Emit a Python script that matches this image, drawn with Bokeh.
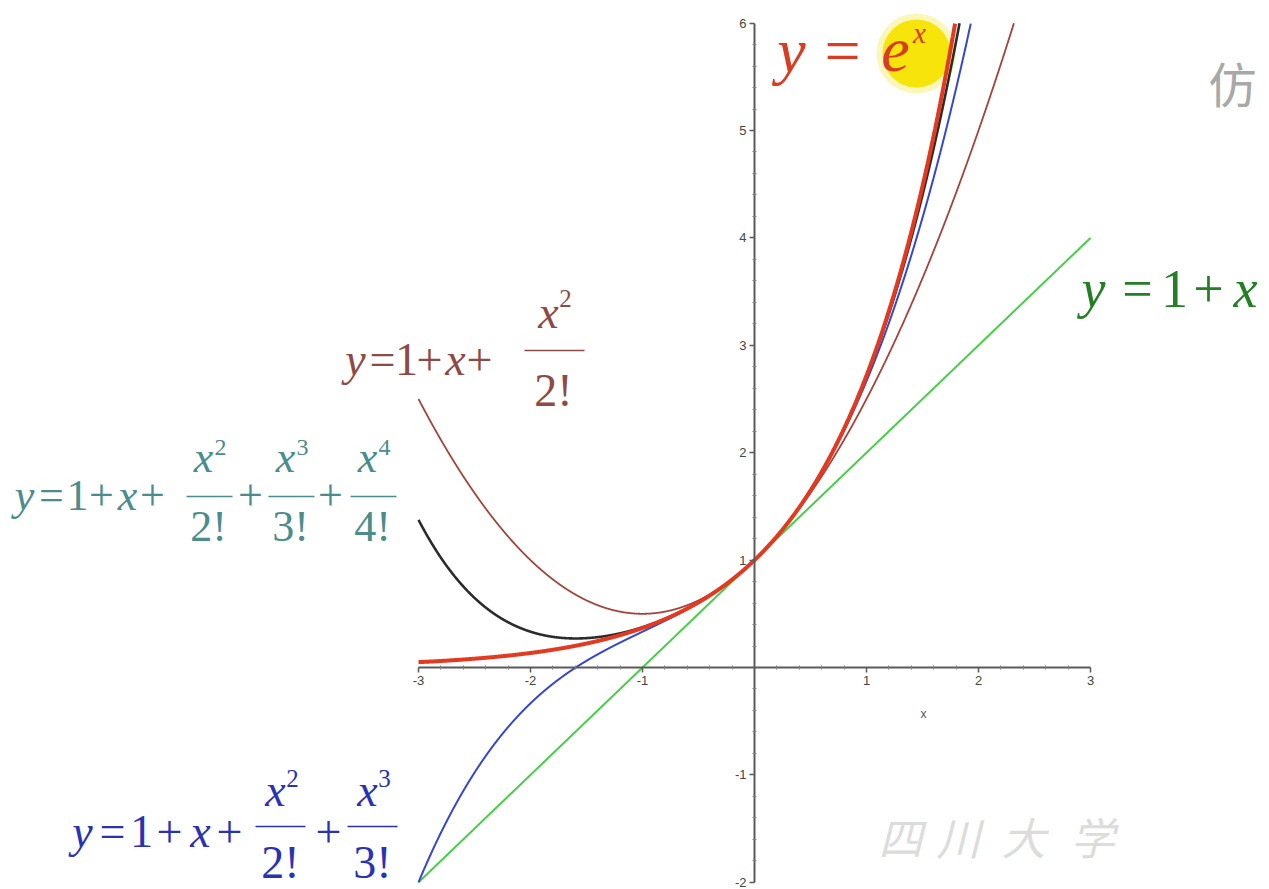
import numpy as np
from bokeh.plotting import figure
from bokeh.models import Range1d, LinearAxis, FixedTicker
from bokeh.core.properties import value
from bokeh.embed import file_html
from bokeh.resources import INLINE

# ---------------- data ----------------
x_domain = [-3.0, 3.0]
y_domain = [-2.0, 6.0]
x_major_ticks = [-3, -2, -1, 1, 2, 3]
y_major_ticks = [-2, -1, 1, 2, 3, 4, 5, 6]
minor_step = 0.2

# Maclaurin coefficients of e^x (1/k!) used by the partial sums
taylor_coeffs = [1.0, 1.0, 1.0 / 2, 1.0 / 6, 1.0 / 24]
series_orders = [1, 2, 3, 4]
series_colors = ["#46cf46", "#a3433c", "#3646cf", "#2b2b2b"]
series_widths = [2.0, 1.8, 2.0, 2.6]
exp_color = "#e2391f"
exp_width = 4.0

# ---------------- page geometry (pixels) ----------------
W, H = 1269, 889
X0PX, XPX = 754.0, 112.0      # pixel of x=0, pixels per unit
Y0PX, YPX = 667.0, 107.4      # pixel of y=0, pixels per unit
BASE_SHIFT = 0.38             # text anchor correction, fraction of font size


def dx(px):
    return (px - X0PX) / XPX


def dy(py):
    return (Y0PX - py) / YPX


p = figure(width=W, height=H, output_backend="svg", toolbar_location=None,
           x_range=Range1d(dx(0), dx(W)), y_range=Range1d(dy(H), dy(0)),
           x_axis_type=None, y_axis_type=None, min_border=0)
p.outline_line_color = None
p.background_fill_color = "white"
p.border_fill_color = "white"

# ---------------- highlight behind the exponent ----------------
p.scatter(x=[dx(916)], y=[dy(53)], size=80, marker="circle",
          fill_color="#f3e31a", fill_alpha=0.3, line_color=None)
p.scatter(x=[dx(916)], y=[dy(53)], size=68, marker="circle",
          fill_color="#f5e300", fill_alpha=0.95, line_color=None)

# ---------------- axes crossing at the origin ----------------
def minor(lo, hi):
    vals = np.round(np.arange(lo, hi + 1e-9, minor_step), 2)
    return [float(v) for v in vals if abs(v - round(v)) > 1e-6]


def plain_labels(ticks):
    return {t: str(t) for t in ticks}


axis_style = dict(fixed_location=0,
                  axis_line_color="#5a5a5a", axis_line_width=2,
                  major_tick_line_color="#5a5a5a", major_tick_line_width=1.5,
                  major_tick_in=0, major_tick_out=5,
                  minor_tick_line_color="#808080", minor_tick_line_width=1,
                  minor_tick_in=2, minor_tick_out=2,
                  major_label_text_font="Liberation Sans",
                  major_label_text_font_size="13px",
                  major_label_text_color="#454545",
                  major_label_standoff=3)

xaxis = LinearAxis(bounds=tuple(x_domain),
                   ticker=FixedTicker(ticks=x_major_ticks, minor_ticks=minor(*x_domain)),
                   major_label_overrides=plain_labels(x_major_ticks),
                   **axis_style)
yaxis = LinearAxis(bounds=tuple(y_domain),
                   ticker=FixedTicker(ticks=y_major_ticks, minor_ticks=minor(*y_domain)),
                   major_label_overrides=plain_labels(y_major_ticks),
                   **axis_style)
p.add_layout(xaxis, "below")
p.add_layout(yaxis, "left")

p.text(x=[dx(923)], y=[dy(713)], text=["x"], text_font=value("Liberation Sans"),
       text_font_size="12px", text_color="#555555",
       text_align="center", text_baseline="middle")

# ---------------- curves ----------------
xs = np.linspace(x_domain[0], x_domain[1], 6001)


def partial_sum(n):
    return sum(c * xs ** k for k, c in enumerate(taylor_coeffs[: n + 1]))


def clipped(ys):
    keep = ys <= y_domain[1]
    return xs[keep], ys[keep]


for order, color, width in zip(series_orders, series_colors, series_widths):
    cx, cy = clipped(partial_sum(order))
    p.line(cx, cy, line_color=color, line_width=width)

ex, ey = clipped(np.exp(xs))
p.line(ex, ey, line_color=exp_color, line_width=exp_width)

# ---------------- formula labels ----------------
SERIF = "Liberation Serif"


def formula(tokens, bars, color, size):
    """tokens: (text, centre_px, baseline_px, italic, scale); bars: (x0, x1, y) in px."""
    groups = {}
    for text, cxp, bp, italic, scale in tokens:
        key = (italic, scale)
        groups.setdefault(key, ([], [], []))
        groups[key][0].append(dx(cxp))
        groups[key][1].append(dy(bp - BASE_SHIFT * size * scale))
        groups[key][2].append(text)
    for (italic, scale), (gx, gy, gt) in groups.items():
        p.text(x=gx, y=gy, text=gt, text_font=value(SERIF),
               text_font_size=value(f"{size * scale:.0f}px"),
               text_font_style="italic" if italic else "normal",
               text_color=color, text_align="center", text_baseline="alphabetic")
    if bars:
        p.segment(x0=[dx(b[0]) for b in bars], x1=[dx(b[1]) for b in bars],
                  y0=[dy(b[2]) for b in bars], y1=[dy(b[2]) for b in bars],
                  line_color=color, line_width=1.6)


def fraction(cx, power, num_base, den_base, sup_base):
    return [("x", cx - 5, num_base, True, 1.0),
            (power, cx + 12, sup_base, False, 0.55),
            (power + "!", cx, den_base, False, 1.0)]


# y = e^x
formula([("y", 791, 74, True, 1.0), ("=", 842, 74, False, 1.0),
         ("e", 895, 74, True, 1.0), ("x", 919, 43, True, 0.45)],
        [], "#d83c22", 64)

# y = 1 + x
formula([("y", 1093, 309, True, 1.0), ("=", 1137, 309, False, 1.0),
         ("1", 1174, 309, False, 1.0), ("+", 1208, 309, False, 1.0),
         ("x", 1245, 309, True, 1.0)],
        [], "#237f23", 54)

# second order
b = 376
toks = [("y", 355, b, True, 1.0), ("=", 382, b, False, 1.0), ("1", 406, b, False, 1.0),
        ("+", 429, b, False, 1.0), ("x", 455, b, True, 1.0), ("+", 479, b, False, 1.0)]
toks += fraction(553, "2", 329, 407, 308)
formula(toks, [(524, 584, 350)], "#8e4a46", 46)

# fourth order
b = 512
toks = [("y", 24, b, True, 1.0), ("=", 51, b, False, 1.0), ("1", 77, b, False, 1.0),
        ("+", 101, b, False, 1.0), ("x", 127, b, True, 1.0), ("+", 152, b, False, 1.0),
        ("+", 250, b, False, 1.0), ("+", 330, b, False, 1.0)]
toks += fraction(208, "2", 474, 543, 456)
toks += fraction(290, "3", 474, 543, 456)
toks += fraction(372, "4", 474, 543, 456)
formula(toks, [(186, 232, 496), (268, 314, 496), (350, 396, 496)], "#4b8c8c", 44)

# third order
b = 848
toks = [("y", 82, b, True, 1.0), ("=", 112, b, False, 1.0), ("1", 141, b, False, 1.0),
        ("+", 169, b, False, 1.0), ("x", 200, b, True, 1.0), ("+", 229, b, False, 1.0),
        ("+", 328, b, False, 1.0)]
toks += fraction(280, "2", 807, 879, 788)
toks += fraction(372, "3", 807, 879, 788)
formula(toks, [(255, 305, 826), (347, 397, 826)], "#2a32b4", 46)

# ---------------- faint watermark text ----------------
wm = 44
p.text(x=[dx(c) for c in (900, 958, 1023, 1092)], y=[dy(852 - BASE_SHIFT * wm)] * 4,
       text=list("四川大学"), text_font=value("Noto Sans CJK SC"),
       text_font_size=f"{wm}px", text_font_style="italic", text_color="#dcdcdc",
       text_align="center", text_baseline="alphabetic")
p.text(x=[dx(1208)], y=[dy(100 - BASE_SHIFT * 48)], text=["仿"],
       text_font=value("Noto Sans CJK SC"),
       text_font_size="48px", text_color="#a8a8a8",
       text_align="left", text_baseline="alphabetic")

open("out.html", "w").write(file_html(p, INLINE))
